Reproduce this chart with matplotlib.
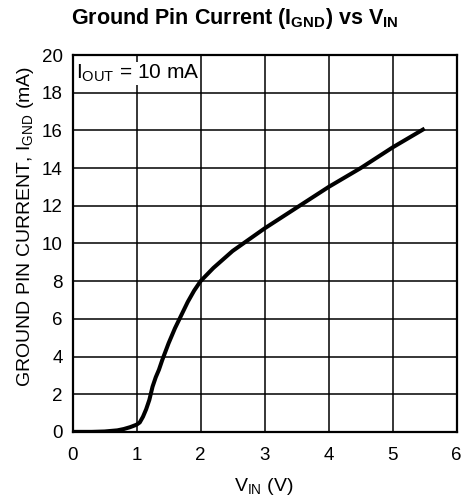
import matplotlib
matplotlib.use('Agg')
import matplotlib.pyplot as plt
import numpy as np

plt.rcParams['font.family'] = ['Liberation Sans', 'DejaVu Sans']
plt.rcParams['mathtext.fontset'] = 'custom'
plt.rcParams['mathtext.rm'] = 'Liberation Sans'
plt.rcParams['mathtext.bf'] = 'Liberation Sans:bold'

# curve
v_in = [0, 0.3, 0.5, 0.7, 0.8, 0.9, 1.0, 1.05, 1.1, 1.15, 1.2, 1.25, 1.3, 1.35,
        1.4, 1.5, 1.6, 1.7, 1.8, 1.9, 2.0, 2.2, 2.5, 3.0, 3.5, 4.0, 4.5, 5.0, 5.5]
i_gnd = [0, 0, 0.02, 0.08, 0.15, 0.25, 0.38, 0.5, 0.8, 1.2, 1.7, 2.4, 2.9, 3.3,
         3.8, 4.7, 5.5, 6.2, 6.9, 7.5, 8.0, 8.7, 9.6, 10.8, 11.9, 13.0, 14.0, 15.1, 16.1]

x_ticks = [0, 1, 2, 3, 4, 5, 6]
y_ticks = [0, 2, 4, 6, 8, 10, 12, 14, 16, 18, 20]

fig = plt.figure(figsize=(4.65, 5.01), dpi=100)
ax = fig.add_axes([0.156, 0.138, 0.826, 0.752])

ax.plot(v_in, i_gnd, color='black', linewidth=2.9, solid_capstyle='butt', zorder=3)

ax.set_xlim(0, 6)
ax.set_ylim(0, 20)
ax.set_xticks(x_ticks)
ax.set_yticks(y_ticks)
ax.tick_params(length=0, labelsize=13.5)
ax.tick_params(axis='x', pad=11)
ax.tick_params(axis='y', pad=7)
ax.grid(color='black', linewidth=1.1)
for s in ax.spines.values():
    s.set_linewidth(1.6)

# labels placed by hand to sit where the reference has them
fig.text(0.568, 1 - 491 / 501, r'$\mathregular{V_{IN}}$ (V)', fontsize=14,
         ha='center', va='baseline')
fig.text(0.054, 1 - 226 / 501, r'GROUND PIN CURRENT, $\mathregular{I_{GND}}$ (mA)',
         fontsize=14, rotation=90, ha='center', va='center')
fig.text(0.505, 1 - 24 / 501, r'Ground Pin Current ($\mathbf{I_{GND}}$) vs $\mathbf{V_{IN}}$',
         fontsize=15.5, fontweight='bold', ha='center', va='baseline')

ax.text(0.05, 19.6, r'$\mathregular{I_{OUT}}$ = 10 mA', fontsize=15, ha='left', va='top',
        bbox=dict(facecolor='white', edgecolor='none', pad=0.5), zorder=4)

fig.savefig('out.png', dpi=100)
